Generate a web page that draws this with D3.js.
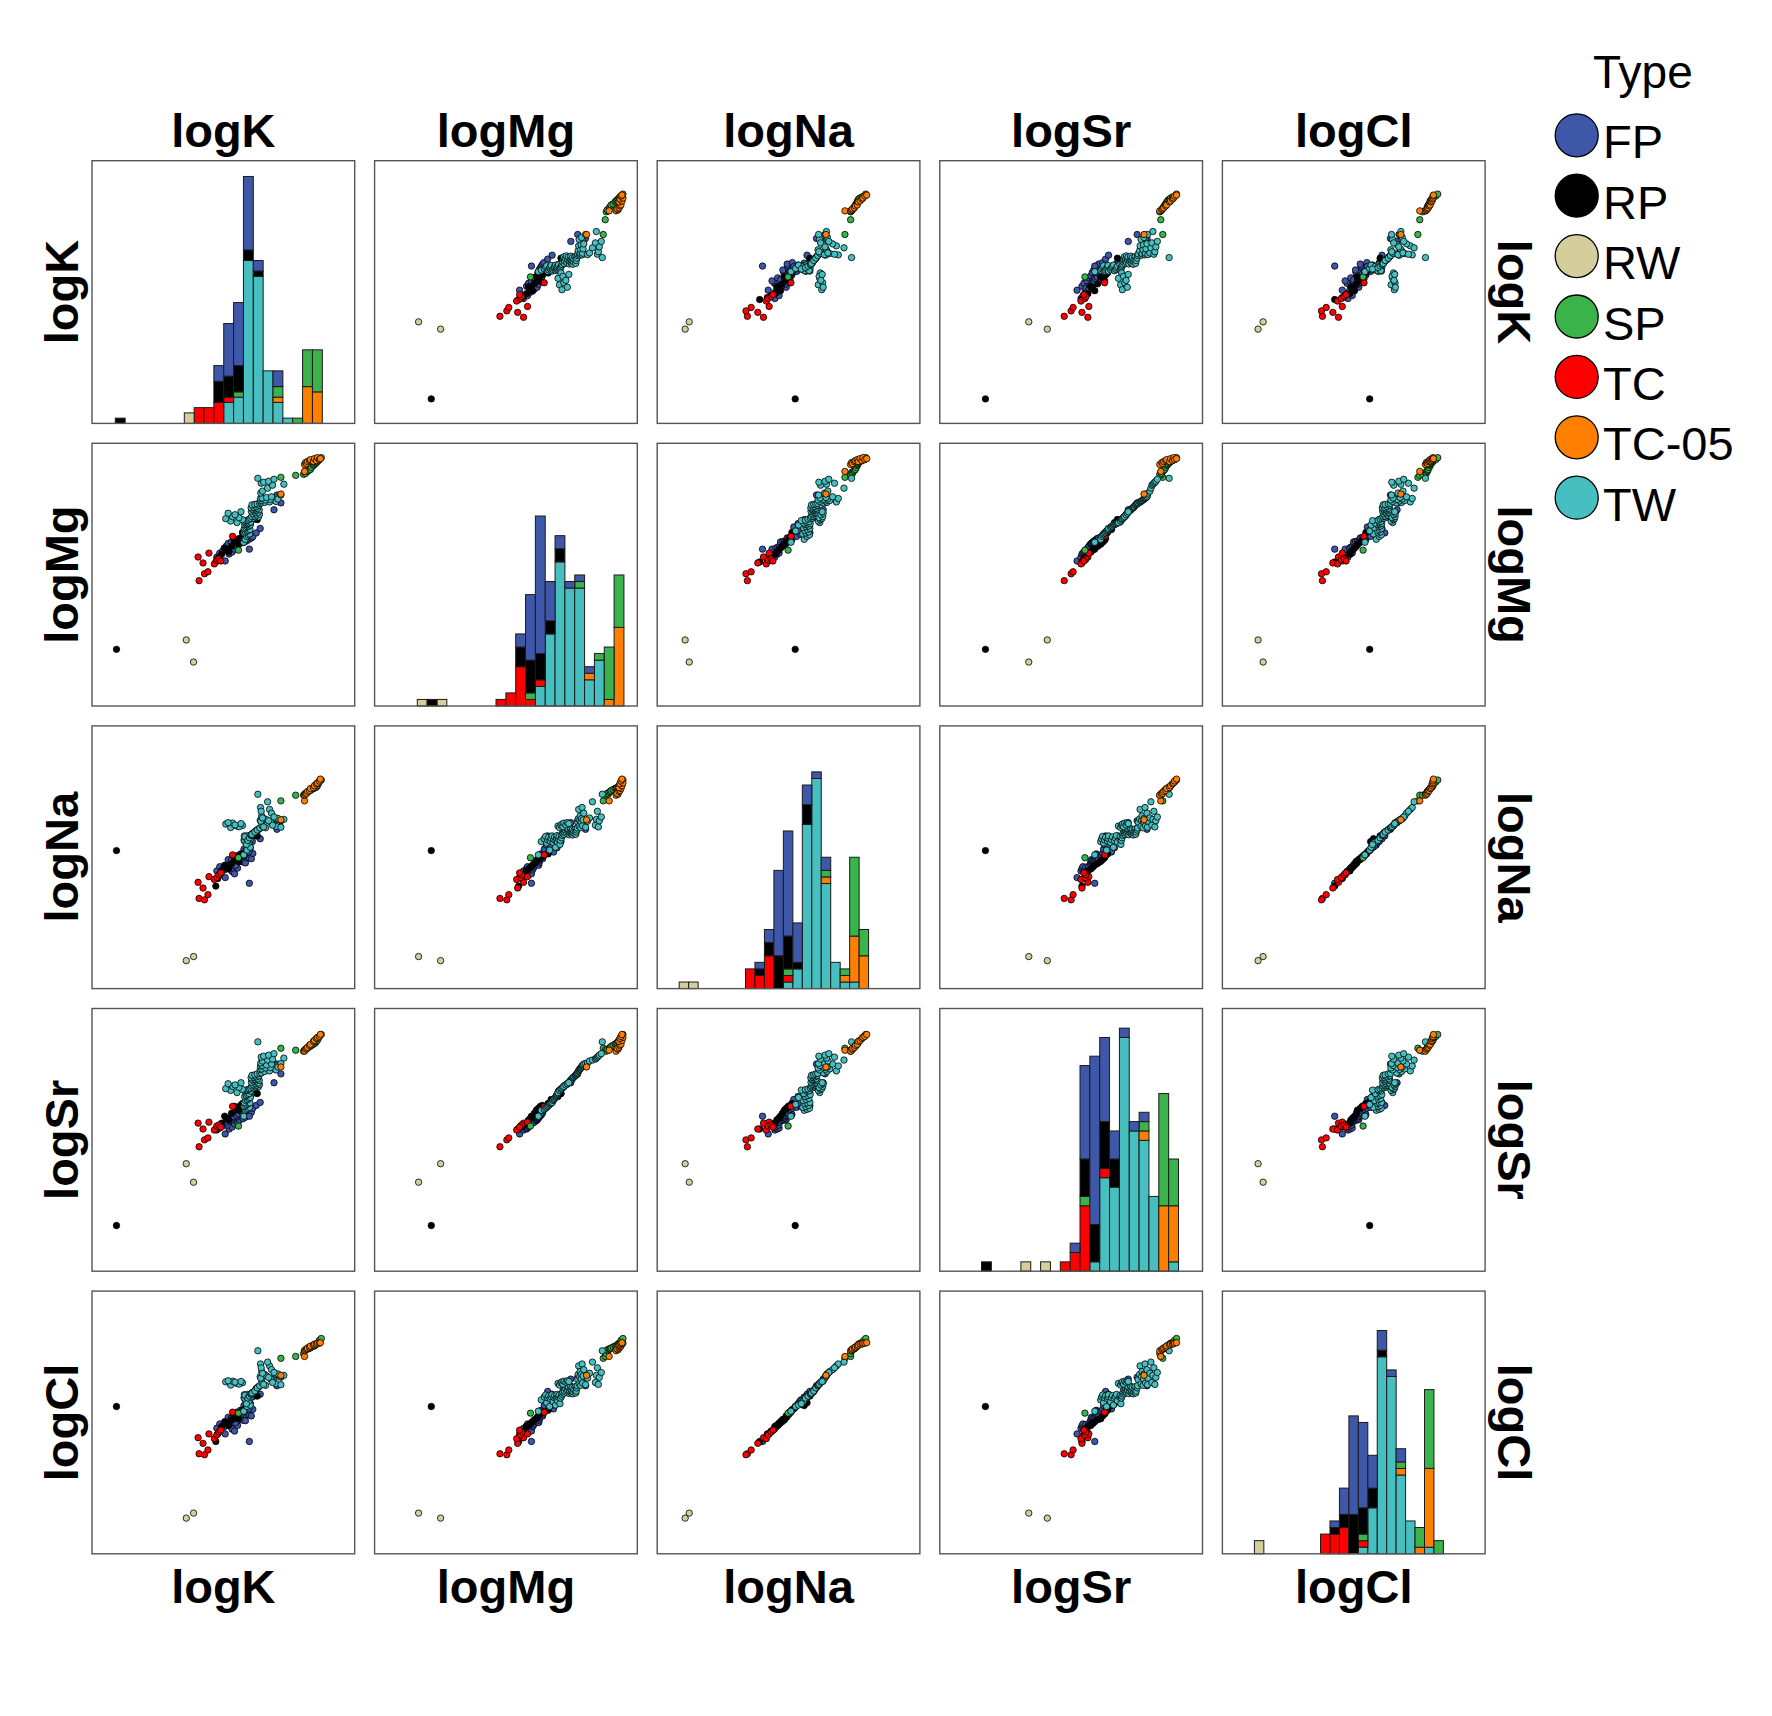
<!DOCTYPE html>
<html><head><meta charset="utf-8">
<script src="https://cdn.jsdelivr.net/npm/d3@7"></script>
<style>body{margin:0;background:#fff} text{font-family:"Liberation Sans",Arial,Helvetica,sans-serif}</style>
</head><body><svg id="c" width="1772" height="1716"></svg>
<script>
// ---------------- data ----------------
const variables = ["logK", "logMg", "logNa", "logSr", "logCl"];
const types = ["FP", "RP", "RW", "SP", "TC", "TC-05", "TW"];
const typeColors = ["#3F57A8", "#000000", "#D3CE9B", "#3AB44A", "#FF0000", "#FF8000", "#47BFC1"];
// each row: [logK, logMg, logNa, logSr, logCl]
const FP = [
 [1.615,1.34,1.94,0.17,2.23],[1.53,1.38,2.01,0.21,2.29],[1.655,1.41,2.035,0.22,2.315],[1.56,1.42,2.055,0.23,2.335],
 [1.685,1.43,2.005,0.24,2.28],[1.59,1.44,2.03,0.25,2.31],[1.635,1.45,2.05,0.26,2.33],[1.71,1.46,1.98,0.27,2.26],
 [1.605,1.47,2.02,0.28,2.305],[1.74,1.48,2.04,0.285,2.32],[1.625,1.49,2.06,0.29,2.34],[1.665,1.51,2.085,0.305,2.36],
 [1.76,1.514,2.11,0.31,2.38],[1.645,1.518,2.13,0.315,2.405],[1.695,1.522,2.08,0.32,2.355],[1.795,1.526,2.105,0.325,2.375],
 [1.675,1.53,2.12,0.33,2.395],[1.72,1.534,2.07,0.335,2.35],[1.82,1.538,2.095,0.34,2.37],[1.705,1.542,2.115,0.345,2.39],
 [1.745,1.546,2.135,0.35,2.41],[1.84,1.55,2.15,0.355,2.435],[1.73,1.554,2.17,0.36,2.46],[1.77,1.558,2.19,0.365,2.48],
 [1.86,1.562,2.145,0.37,2.43],[1.75,1.566,2.165,0.375,2.45],[1.79,1.57,2.18,0.38,2.47],[1.88,1.574,2.14,0.39,2.42],
 [1.78,1.578,2.16,0.41,2.44],[1.81,1.582,2.175,0.42,2.465],[1.895,1.586,2.195,0.43,2.49],[1.805,1.59,2.24,0.44,2.53],
 [1.83,1.61,2.285,0.45,2.59],[1.93,1.625,2.38,0.46,2.68],[1.825,1.64,2.225,0.47,2.51],[1.85,1.655,2.27,0.48,2.57],
 [1.97,1.67,2.35,0.49,2.65],[1.855,1.685,2.21,0.52,2.495],[1.87,1.72,2.255,0.55,2.55],[1.89,1.76,2.32,0.58,2.62],
 [1.86,1.46,1.88,0.35,2.15],[2.18,1.93,2.54,0.78,2.83],[2.11,1.86,2.52,0.69,2.81],[2.14,2.01,2.45,0.88,2.74]
];
const RP = [
 [0.512,0.442,2.225,-0.76,2.52],
 [1.52,1.33,1.85,0.22,2.15],[1.54,1.36,1.93,0.24,2.23],[1.56,1.38,1.97,0.26,2.26],[1.58,1.41,2.01,0.28,2.31],
 [1.65,1.43,2.03,0.31,2.32],[1.63,1.45,2.05,0.33,2.34],[1.61,1.47,2.07,0.35,2.36],[1.68,1.49,2.09,0.38,2.38],
 [1.75,1.51,2.11,0.41,2.39],[1.73,1.53,2.13,0.43,2.42],[1.71,1.55,2.15,0.45,2.44],[1.77,1.57,2.17,0.46,2.46],
 [1.79,1.63,2.19,0.48,2.48],[1.83,1.66,2.32,0.52,2.53],[1.86,1.73,2.35,0.55,2.56],[1.94,1.76,2.38,0.58,2.63]
];
const RW = [[1.294,0.313,1.106,-0.32,1.392],[1.22,0.537,1.063,-0.132,1.339]];
const SP = [
 [1.75,1.45,2.15,0.25,2.45],[2.13,1.98,2.56,0.86,2.86],[2.18,2.19,2.75,1.04,3.03],[2.33,2.21,2.81,1.02,3.05],
 [2.41,2.22,2.81,1.01,3.08],[2.42,2.24,2.82,1.02,3.11],[2.43,2.23,2.83,1.03,3.12],[2.45,2.25,2.84,1.04,3.13],
 [2.46,2.26,2.85,1.05,3.13],[2.48,2.27,2.86,1.06,3.14],[2.49,2.29,2.87,1.07,3.15],[2.51,2.31,2.88,1.08,3.16],
 [2.52,2.32,2.885,1.09,3.16],[2.53,2.33,2.89,1.095,3.17],[2.54,2.34,2.895,1.11,3.18],[2.55,2.35,2.91,1.12,3.19],
 [2.56,2.36,2.93,1.14,3.195],[2.57,2.37,2.95,1.16,3.22],[2.59,2.39,2.97,1.18,3.24]
];
const TC = [
 [1.35,1.14,1.72,0.04,2.02],[1.405,1.21,1.705,0.11,2.01],[1.44,1.23,1.76,0.13,2.06],[1.39,1.32,1.83,0.22,2.13],
 [1.34,1.38,1.89,0.28,2.19],[1.45,1.42,1.95,0.29,2.23],[1.505,1.31,1.92,0.21,2.18],[1.53,1.35,1.94,0.25,2.22],
 [1.55,1.36,1.97,0.26,2.25],[1.57,1.34,1.99,0.24,2.27],[1.69,1.59,2.18,0.45,2.46]
];
const TC05 = [
 [2.18,2.02,2.55,0.85,2.85],[2.42,2.25,2.75,1.02,3.05],[2.42,2.32,2.81,1.01,3.11],[2.43,2.34,2.82,1.03,3.12],
 [2.44,2.33,2.83,1.04,3.13],[2.45,2.35,2.85,1.05,3.14],[2.47,2.36,2.86,1.07,3.15],[2.48,2.37,2.88,1.08,3.16],
 [2.51,2.35,2.89,1.11,3.17],[2.52,2.38,2.91,1.12,3.18],[2.54,2.36,2.93,1.14,3.18],[2.55,2.39,2.94,1.15,3.19],
 [2.57,2.37,2.96,1.16,3.19],[2.58,2.38,2.98,1.18,3.195]
];
const TW = [
 [1.803,1.53,2.18,0.35,2.47],[1.818,1.56,2.32,0.41,2.59],[1.833,1.59,2.35,0.42,2.621],[1.848,1.605,2.375,0.43,2.642],
 [1.863,1.615,2.305,0.44,2.56],[1.806,1.625,2.337,0.45,2.612],[1.821,1.635,2.365,0.46,2.633],[1.836,1.645,2.23,0.47,2.52],
 [1.851,1.65,2.325,0.48,2.603],[1.866,1.66,2.353,0.485,2.624],[1.809,1.67,2.38,0.49,2.645],[1.824,1.68,2.31,0.51,2.57],
 [1.839,1.69,2.34,0.52,2.615],[1.854,1.695,2.37,0.53,2.636],[1.869,1.705,2.26,0.54,2.535],[1.812,1.71,2.33,0.55,2.606],
 [1.827,1.715,2.357,0.56,2.627],[1.842,1.72,2.383,0.57,2.648],[1.857,1.725,2.315,0.58,2.58],[1.872,1.735,2.345,0.605,2.618],
 [1.815,1.74,2.372,0.608,2.639],[1.83,1.75,2.29,0.615,2.55],[1.845,1.755,2.333,0.62,2.609],[1.86,1.765,2.36,0.627,2.63],
 [1.875,1.772,2.386,0.635,2.651],[1.903,1.775,2.409,0.638,2.672],[1.926,1.785,2.43,0.645,2.703],[1.953,1.788,2.451,0.65,2.727],
 [1.884,1.793,2.395,0.657,2.66],[1.913,1.796,2.418,0.66,2.681],[1.936,1.805,2.439,0.665,2.713],[1.963,1.815,2.46,0.672,2.737],
 [1.893,1.82,2.406,0.675,2.669],[1.923,1.83,2.427,0.683,2.69],[1.95,1.835,2.448,0.687,2.723],[1.881,1.845,2.392,0.695,2.657],
 [1.91,1.85,2.415,0.705,2.678],[1.933,1.855,2.436,0.71,2.71],[1.96,1.86,2.457,0.715,2.734],[1.89,1.865,2.403,0.72,2.666],
 [1.92,1.87,2.424,0.725,2.687],[1.943,1.875,2.445,0.73,2.72],[1.878,1.88,2.39,0.74,2.654],[1.906,1.885,2.412,0.745,2.675],
 [1.93,1.892,2.433,0.75,2.706],[1.956,1.905,2.454,0.76,2.73],[1.887,1.91,2.397,0.765,2.663],[1.916,1.915,2.421,0.77,2.684],
 [1.94,1.92,2.442,0.78,2.717],[1.966,1.925,2.463,0.785,2.74],[1.983,1.93,2.525,0.79,2.805],[2.015,1.935,2.56,0.805,2.858],
 [2.065,1.94,2.66,0.81,2.95],[2.13,1.945,2.481,0.82,2.761],[1.97,1.95,2.545,0.825,2.835],[1.986,1.955,2.59,0.83,2.89],
 [2.025,1.96,2.466,0.84,2.744],[2.075,1.965,2.53,0.845,2.812],[2.15,1.97,2.565,0.85,2.865],[1.973,1.975,2.68,0.86,2.97],
 [1.99,1.98,2.487,0.865,2.768],[2.035,1.985,2.55,0.87,2.842],[2.085,1.992,2.62,0.88,2.91],[2.18,2.01,2.472,0.885,2.751],
 [1.976,2.03,2.535,0.89,2.82],[1.993,2.05,2.57,0.91,2.872],[2.045,2.08,2.74,0.92,2.99],[2.095,2.11,2.493,0.93,2.774],
 [2.21,2.12,2.555,0.94,2.85],[1.98,2.13,2.64,0.95,2.93],[2.005,2.14,2.475,0.96,2.754],[2.055,2.15,2.54,0.97,2.828],
 [2.11,2.17,2.58,0.985,2.88],[1.946,2.18,2.82,1.105,3.11],
 [1.735,1.73,2.484,0.59,2.764],[1.67,1.745,2.469,0.612,2.747],[1.79,1.76,2.49,0.623,2.771],[1.62,1.77,2.505,0.63,2.781],
 [1.755,1.78,2.478,0.642,2.757],[1.69,1.79,2.515,0.653,2.788],[1.715,1.81,2.496,0.668,2.778],[1.645,1.825,2.52,0.68,2.792],
 [1.775,1.84,2.51,0.69,2.785]
];
// axis ranges (no ticks are shown) and histogram settings
const varDomains = [[0.2636, 2.9287], [-0.1339, 2.5358], [0.7677, 3.5417], [-1.2234, 1.4436], [0.9614, 3.7413]];
const histStart = [0.5, 0.3, 1.0, -1.2, 1.0];
const histBinWidth = 0.1;
const histCountMax = [50, 40.1, 40, 28.1, 40];

// ---------------- layout ----------------
const P = 262.7, STEP = 282.6, LEFT0 = 92, TOP0 = 160.7;
const svg = d3.select("#c");
svg.append("rect").attr("width", 1772).attr("height", 1716).attr("fill", "#fff");

const groups = {"FP": FP, "RP": RP, "RW": RW, "SP": SP, "TC": TC, "TC-05": TC05, "TW": TW};
const drawOrder = ["FP", "RP", "RW", "TC", "SP", "TW", "TC-05"];
const data = [];
drawOrder.forEach(t => groups[t].forEach(r => data.push({type: t, v: r})));
const color = d3.scaleOrdinal(types, typeColors);
const xs = variables.map((_, k) => d3.scaleLinear().domain(varDomains[k]).range([0, P]));
const ys = variables.map((_, k) => d3.scaleLinear().domain(varDomains[k]).range([P, 0]));
const stackOrder = ["TW", "TC-05", "TC", "SP", "RW", "RP", "FP"];

function drawHist(g, k) {
  const x = xs[k];
  const nb = Math.floor((varDomains[k][1] - histStart[k]) / histBinWidth);
  const thr = d3.range(nb + 1).map(i => Math.round((histStart[k] + i * histBinWidth) * 1000) / 1000);
  const binner = d3.bin().value(d => d.v[k]).domain([thr[0], thr[thr.length - 1]]).thresholds(thr.slice(1, -1));
  const bins = binner(data);
  const table = bins.map(b => {
    const o = {x0: b.x0, x1: b.x1};
    types.forEach(t => o[t] = 0);
    b.forEach(d => o[d.type]++);
    return o;
  });
  const series = d3.stack().keys(stackOrder)(table);
  const y = d3.scaleLinear().domain([0, histCountMax[k]]).range([P, 0]);
  series.forEach(s => {
    g.append("g").selectAll("rect").data(s.filter(d => d[1] > d[0])).join("rect")
      .attr("x", d => x(d.data.x0)).attr("width", d => x(d.data.x1) - x(d.data.x0))
      .attr("y", d => y(d[1])).attr("height", d => y(d[0]) - y(d[1]))
      .attr("fill", color(s.key)).attr("stroke", "#1a1a1a").attr("stroke-width", 1);
  });
}

for (let i = 0; i < 5; i++) {
  for (let j = 0; j < 5; j++) {
    const g = svg.append("g").attr("transform", `translate(${LEFT0 + j * STEP},${TOP0 + i * STEP})`);
    if (i === j) {
      drawHist(g, i);
    } else {
      g.selectAll("circle").data(data).join("circle")
        .attr("cx", d => xs[j](d.v[j])).attr("cy", d => ys[i](d.v[i]))
        .attr("r", 3.2).attr("fill", d => color(d.type))
        .attr("stroke", "#000").attr("stroke-width", 0.8);
    }
    g.append("rect").attr("width", P).attr("height", P)
      .attr("fill", "none").attr("stroke", "#555").attr("stroke-width", 1.4);
  }
}

// strip labels
const labelFont = 47;
variables.forEach((v, k) => {
  const cx = LEFT0 + k * STEP + P / 2;
  const cy = TOP0 + k * STEP + P / 2;
  svg.append("text").attr("x", cx).attr("y", 146.7).attr("text-anchor", "middle")
    .attr("font-size", labelFont).attr("font-weight", "bold").text(v);
  svg.append("text").attr("x", cx).attr("y", 1602.7).attr("text-anchor", "middle")
    .attr("font-size", labelFont).attr("font-weight", "bold").text(v);
  svg.append("text").attr("transform", `translate(77.5,${cy}) rotate(-90)`).attr("text-anchor", "middle")
    .attr("font-size", labelFont).attr("font-weight", "bold").text(v);
  svg.append("text").attr("transform", `translate(1498,${cy}) rotate(90)`).attr("text-anchor", "middle")
    .attr("font-size", labelFont).attr("font-weight", "bold").text(v);
});

// legend
svg.append("text").attr("x", 1593).attr("y", 87.7).attr("font-size", 46).text("Type");
const lg = svg.append("g");
types.forEach((t, i) => {
  const cy = 135.3 + i * 60.4;
  lg.append("circle").attr("cx", 1576.7).attr("cy", cy).attr("r", 21.5)
    .attr("fill", color(t)).attr("stroke", "#000").attr("stroke-width", 1.3);
  lg.append("text").attr("x", 1603).attr("y", cy + 23).attr("font-size", 47).text(t);
});
</script></body></html>
